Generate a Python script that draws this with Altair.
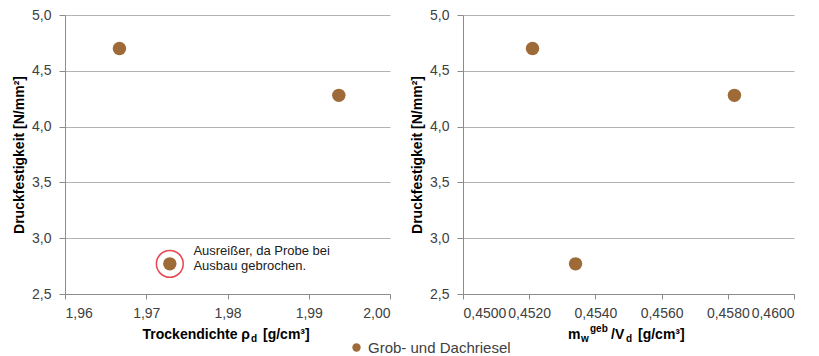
import altair as alt
import pandas as pd

# ---------------- data ----------------
series_name = "Grob- und Dachriesel"
density = [1.9667, 1.9937, 1.9729]          # Trockendichte rho_d [g/cm3]
ratio = [0.4521, 0.4582, 0.4534]            # m_w^geb / V_d [g/cm3]
strength = [4.70, 4.28, 2.77]               # Druckfestigkeit [N/mm2]

outlier_density = [1.9729]
outlier_strength = [2.77]

note_lines = ["Ausreißer, da Probe bei", "Ausbau gebrochen."]
note_x = [1.9758, 1.9758]
note_y = [2.885, 2.751]

y_ticks = [2.5, 3.0, 3.5, 4.0, 4.5, 5.0]
x_ticks_left = [1.96, 1.97, 1.98, 1.99, 2.00]
x_ticks_right = [0.4500, 0.4520, 0.4540, 0.4560, 0.4580, 0.4600]

y_title = "Druckfestigkeit [N/mm²]"
left_title_parts = ["Trockendichte ρ", "d", "[g/cm³]"]
right_title_parts = ["m", "w", "geb", "/V", "d", "[g/cm³]"]

BROWN = "#9E6A38"
FONT = "Liberation Sans"
LABEL_COLOR = "#404040"

df = pd.DataFrame({"rho": density, "ratio": ratio, "f": strength,
                   "serie": [series_name] * len(strength)})
df_out = pd.DataFrame({"rho": outlier_density, "f": outlier_strength})
df_note = pd.DataFrame({"x": note_x, "y": note_y, "t": note_lines})

W_L, W_R, H = 325, 331, 279

y_enc = alt.Y("f:Q",
              scale=alt.Scale(domain=[2.5, 5.0], nice=False, zero=False),
              axis=alt.Axis(values=y_ticks,
                            labelExpr="replace(format(datum.value, '.1f'), '.', ',')",
                            title=y_title, grid=True, tickSize=6,
                            labelPadding=8, titlePadding=5))

color_enc = alt.Color("serie:N",
                      scale=alt.Scale(domain=[series_name], range=[BROWN]),
                      legend=alt.Legend(title=None, orient="none",
                                        legendX=284, legendY=325,
                                        symbolType="circle", symbolSize=70,
                                        symbolStrokeWidth=0,
                                        labelFontSize=15, labelColor=LABEL_COLOR,
                                        labelFont=FONT))


def title_piece(text, x, y, size, anchor="left"):
    return alt.Chart(pd.DataFrame({"t": [text]})).mark_text(
        align=anchor, baseline="alphabetic", font=FONT, fontSize=size,
        fontWeight="bold", color="black"
    ).encode(x=alt.value(x), y=alt.value(y), text="t:N")


# ---------------- left panel ----------------
x_left = alt.X("rho:Q",
               scale=alt.Scale(domain=[1.96, 2.00], nice=False, zero=False),
               axis=alt.Axis(values=x_ticks_left,
                             labelExpr="replace(format(datum.value, '.2f'), '.', ',')",
                             title=None, grid=False, tickSize=5, labelPadding=7))

pts_left = alt.Chart(df).mark_circle(size=180, opacity=1).encode(
    x=x_left, y=y_enc, color=color_enc)

ring = alt.Chart(df_out).mark_point(shape="circle", size=720, filled=False,
                                    color="#E8454F", strokeWidth=1.5, opacity=1).encode(
    x="rho:Q", y="f:Q")

note = alt.Chart(df_note).mark_text(align="left", baseline="middle", font=FONT,
                                    fontSize=13, color="#202020").encode(
    x="x:Q", y="y:Q", text="t:N")

left = alt.layer(
    pts_left, ring, note,
    title_piece(left_title_parts[0], 185, 324, 14, anchor="right"),
    title_piece(left_title_parts[1], 186, 327, 10),
    title_piece(left_title_parts[2], 198, 324, 14),
).properties(width=W_L, height=H)

# ---------------- right panel ----------------
x_right = alt.X("ratio:Q",
                scale=alt.Scale(domain=[0.45, 0.46], nice=False, zero=False),
                axis=alt.Axis(values=x_ticks_right,
                              labelExpr="replace(format(datum.value, '.4f'), '.', ',')",
                              title=None, grid=False, tickSize=5, labelPadding=7))

pts_right = alt.Chart(df).mark_circle(size=180, opacity=1).encode(
    x=x_right, y=y_enc, color=color_enc)

right = alt.layer(
    pts_right,
    title_piece(right_title_parts[0], 105, 324, 14),
    title_piece(right_title_parts[1], 118, 327, 10),
    title_piece(right_title_parts[2], 127, 317, 10),
    title_piece(right_title_parts[3], 148, 324, 14),
    title_piece(right_title_parts[4], 163, 327, 10),
    title_piece(right_title_parts[5], 175, 324, 14),
).properties(width=W_R, height=H)

chart = alt.hconcat(left, right, spacing=19).properties(
    padding={"left": 4, "top": 0, "right": 5, "bottom": 5},
    background="white",
).configure_view(stroke=None).configure_axis(
    labelFont=FONT, labelFontSize=14, labelColor=LABEL_COLOR,
    titleFont=FONT, titleFontSize=14, titleFontWeight="bold", titleColor="black",
    domainColor="#8C8C8C", tickColor="#8C8C8C", gridColor="#B3B3B3",
    domainWidth=1, gridWidth=1,
)

chart.save("out.html", embed_options={"renderer": "svg", "actions": False})
